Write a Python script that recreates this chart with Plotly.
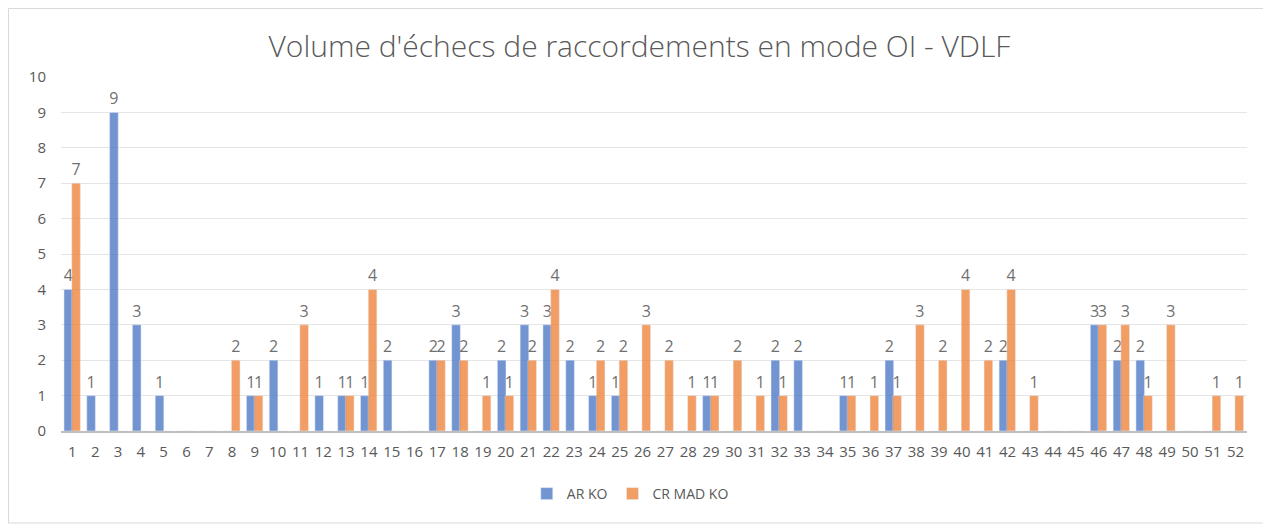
import plotly.graph_objs as go

weeks = list(range(1, 53))

ar_ko = [4, 1, 9, 3, 1, 0, 0, 0, 1, 2, 0, 1, 1, 1, 2, 0, 2, 3, 0, 2,
         3, 3, 2, 1, 1, 0, 0, 0, 1, 0, 0, 2, 2, 0, 1, 0, 2, 0, 0, 0,
         0, 2, 0, 0, 0, 3, 2, 2, 0, 0, 0, 0]

cr_mad_ko = [7, 0, 0, 0, 0, 0, 0, 2, 1, 0, 3, 0, 1, 4, 0, 0, 2, 2, 1, 1,
             2, 4, 0, 2, 2, 3, 2, 1, 1, 2, 1, 1, 0, 0, 1, 1, 1, 3, 2, 4,
             2, 4, 1, 0, 0, 3, 3, 1, 3, 0, 1, 1]


def labels(vals):
    # excel hides the zero labels
    return [str(v) if v else '' for v in vals]


fig = go.Figure()

fig.add_trace(go.Bar(x=weeks, y=ar_ko, name='AR KO', marker_color='#4472C4', opacity=0.75,
                     width=0.38, offset=-0.37, text=labels(ar_ko), textposition='outside',
                     constraintext='none',
                     textfont=dict(size=16, color='#404040'), cliponaxis=False))
fig.add_trace(go.Bar(x=weeks, y=cr_mad_ko, name='CR MAD KO', marker_color='#ED7D31', opacity=0.75,
                     width=0.38, offset=-0.03, text=labels(cr_mad_ko), textposition='outside',
                     constraintext='none',
                     textfont=dict(size=16, color='#404040'), cliponaxis=False))

# page body has an 8px margin, so the figure is a bit smaller than the window
fig.update_layout(
    width=1263, height=517,
    barmode='overlay',
    paper_bgcolor='white', plot_bgcolor='white',
    font=dict(family='Open Sans', color='#595959'),
    title=dict(text="Volume d'échecs de raccordements en mode OI - VDLF",
               x=0.5, xanchor='center', y=0.925, yanchor='middle',
               font=dict(size=30, color='#595959', family='Open Sans', weight=300)),
    margin=dict(l=53, r=24, t=69, b=94),
    legend=dict(orientation='h', x=0.48, xanchor='center', y=-0.178, yanchor='middle',
                font=dict(size=14, color='#595959')),
    xaxis=dict(range=[0.5, 52.5], tickmode='array', tickvals=weeks, ticktext=[str(w) for w in weeks],
               showgrid=False, showline=True, linecolor='#BFBFBF', linewidth=2,
               tickfont=dict(size=15, color='#595959'), ticklabelstandoff=6),
    yaxis=dict(range=[0, 10], dtick=1, showgrid=True, gridcolor='#E5E5E5', gridwidth=1,
               zeroline=False, showline=False, tickfont=dict(size=15, color='#595959'),
               ticklabelstandoff=14),
    shapes=[dict(type='rect', xref='paper', yref='paper', x0=-0.0443, x1=1.016, y0=-0.26, y1=1.1935,
                 line=dict(color='#D9D9D9', width=1), fillcolor='rgba(0,0,0,0)', layer='below')],
)

fig.write_html("out.html")
